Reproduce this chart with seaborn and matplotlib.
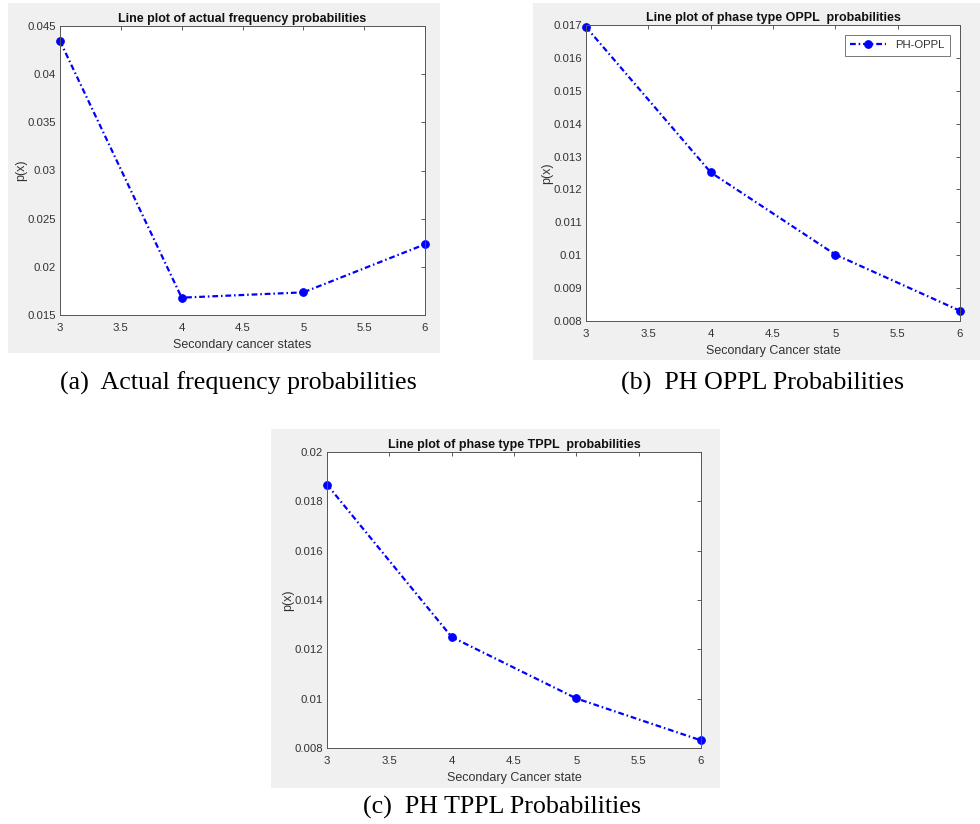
import numpy as np
import pandas as pd
import matplotlib
matplotlib.use("Agg")
import matplotlib.pyplot as plt
from matplotlib.patches import Rectangle
import seaborn as sns

# values
states = [3, 4, 5, 6]
actual_freq = [0.04344, 0.0168, 0.01735, 0.02234]
ph_oppl = [0.01694, 0.01252, 0.01002, 0.00831]
ph_tppl = [0.01868, 0.0125, 0.01001, 0.00831]

x_ticks = [3, 3.5, 4, 4.5, 5, 5.5, 6]
y_ticks_a = [0.015, 0.02, 0.025, 0.03, 0.035, 0.04, 0.045]
y_ticks_b = [0.008, 0.009, 0.01, 0.011, 0.012, 0.013, 0.014, 0.015, 0.016, 0.017]
y_ticks_c = [0.008, 0.01, 0.012, 0.014, 0.016, 0.018, 0.02]

sns.set_style("white")
plt.rcParams["font.family"] = ["Liberation Sans", "DejaVu Sans"]

W, H = 980, 824
fig = plt.figure(figsize=(W / 100, H / 100), dpi=100)
fig.patch.set_facecolor("white")


def px_rect(x0, y0, x1, y1):
    return [x0 / W, 1 - y1 / H, (x1 - x0) / W, (y1 - y0) / H]


def panel(bg, axbox, yvals, yticks, title, xlabel, caption, cap_xy, legend=None):
    # gray MATLAB figure background
    bx = px_rect(*bg)
    fig.patches.append(Rectangle((bx[0], bx[1]), bx[2], bx[3], transform=fig.transFigure,
                                 facecolor="#f0f0f0", edgecolor="none", zorder=-5))
    ax = fig.add_axes(px_rect(*axbox))
    ax.set_zorder(2)
    ax.set_facecolor("white")
    df = pd.DataFrame({"state": states, "p": yvals})
    sns.lineplot(data=df, x="state", y="p", ax=ax, color="#0000ff",
                 linewidth=1.6, dashes=False, marker="o", markersize=5.5,
                 markeredgecolor="#0000ff", label=legend, legend=bool(legend), clip_on=False)
    for ln in ax.lines:
        ln.set_dashes((2.6, 1.3, 0.7, 1.3))
    ax.set_xlim(3, 6)
    ax.set_ylim(yticks[0], yticks[-1])
    ax.set_xticks(x_ticks)
    ax.set_xticklabels([f"{v:g}" for v in x_ticks])
    ax.set_yticks(yticks)
    ax.set_yticklabels([f"{v:g}" for v in yticks])
    ax.tick_params(direction="in", length=3, width=0.6, colors="#404040",
                   labelsize=8.2, top=True, right=True, pad=3, labelcolor="#333333")
    ax.tick_params(axis="x", pad=6)
    for s in ax.spines.values():
        s.set_color("#555555")
        s.set_linewidth(0.7)
    ax.set_title(title, fontsize=9, fontweight="bold", color="#111111", pad=3)
    ax.set_xlabel(xlabel, fontsize=9, color="#333333", labelpad=4)
    ax.set_ylabel("p(x)", fontsize=9, color="#333333", labelpad=0)
    if legend:
        leg = ax.legend(loc="upper right", fontsize=8.2, frameon=True, fancybox=False,
                        handlelength=3.2, borderpad=0.45, borderaxespad=0.9)
        leg.get_frame().set_edgecolor("#555555")
        leg.get_frame().set_linewidth(0.7)
        for t in leg.get_texts():
            t.set_color("#333333")
        for h in leg.get_lines():
            h.set_dashes((2.6, 1.3, 0.7, 1.3))
    fig.text(cap_xy[0] / W, 1 - cap_xy[1] / H, caption, ha="center", va="center",
             fontsize=18.7, family=["Liberation Serif", "DejaVu Serif"], color="black")
    return ax


panel((8, 3, 440, 353), (60, 26, 425, 315), actual_freq, y_ticks_a,
      "Line plot of actual frequency probabilities", "Secondary cancer states",
      "(a)  Actual frequency probabilities", (238, 383))
panel((533, 3, 980, 360), (586, 25, 960, 321), ph_oppl, y_ticks_b,
      "Line plot of phase type OPPL  probabilities", "Secondary Cancer state",
      "(b)  PH OPPL Probabilities", (763, 383), legend="PH-OPPL")
panel((271, 429, 720, 788), (327, 452, 701, 748), ph_tppl, y_ticks_c,
      "Line plot of phase type TPPL  probabilities", "Secondary Cancer state",
      "(c)  PH TPPL Probabilities", (502, 807))

fig.savefig("out.png", dpi=100)
